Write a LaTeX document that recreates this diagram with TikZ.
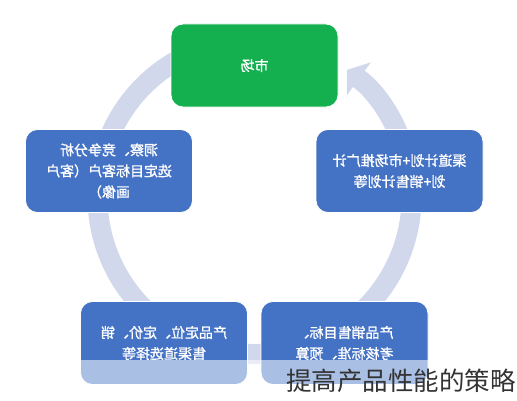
\documentclass[tikz,border=0pt]{standalone}
\usepackage{fontspec}
\newfontfamily\cjk{Noto Sans CJK SC}
\newfontfamily\cjkbox{Noto Sans CJK SC}[FakeBold=1.2]
\usetikzlibrary{arrows.meta}
\definecolor{ringgray}{RGB}{210,216,236}
\definecolor{boxblue}{RGB}{68,114,196}
\definecolor{boxgreen}{RGB}{20,176,80}

\begin{document}
\begin{tikzpicture}[x=1pt,y=1pt,
    stage/.style={draw=white, line width=0.8pt, fill=boxblue, rounded corners=12pt,
        minimum width=167pt, minimum height=83pt, inner sep=0pt, text=white,
        align=center, font=\cjkbox\fontsize{14}{21}\selectfont, xscale=-1}]
        \useasboundingbox (0,0) rectangle (517,400);
        % ring with its arrow head
        \draw[ringgray, line width=20pt, -{Triangle[length=15pt, width=40pt]}] (254.5,203) ++(100:157) arc[start angle=100, end angle=414, radius=157];
        \node[stage, fill=boxgreen] (market) at (254.5,334.5) {市场};
        \node[stage] (plan) at (399.5,229) {渠道计划+市场推广计\\划+销售计划等};
        \node[stage] (insight) at (109,229) {洞察、竞争分析\\选定目标客户（客户\\画像）};
        \node[stage] (position) at (164,57) {产品定位、定价、销\\售渠道选择等};
        \node[stage] (target) at (344.5,57) {产品销售目标、\\考核标准、预算};
        % light band at the foot
        \fill[white, opacity=0.55] (0,0) rectangle (517,40);
        \node[anchor=east, inner sep=1pt, text=black!80, font=\cjk\fontsize{25.5}{28}\selectfont] (mark) at (517,19) {提高产品性能的策略};
    \end{tikzpicture}
\end{document}
